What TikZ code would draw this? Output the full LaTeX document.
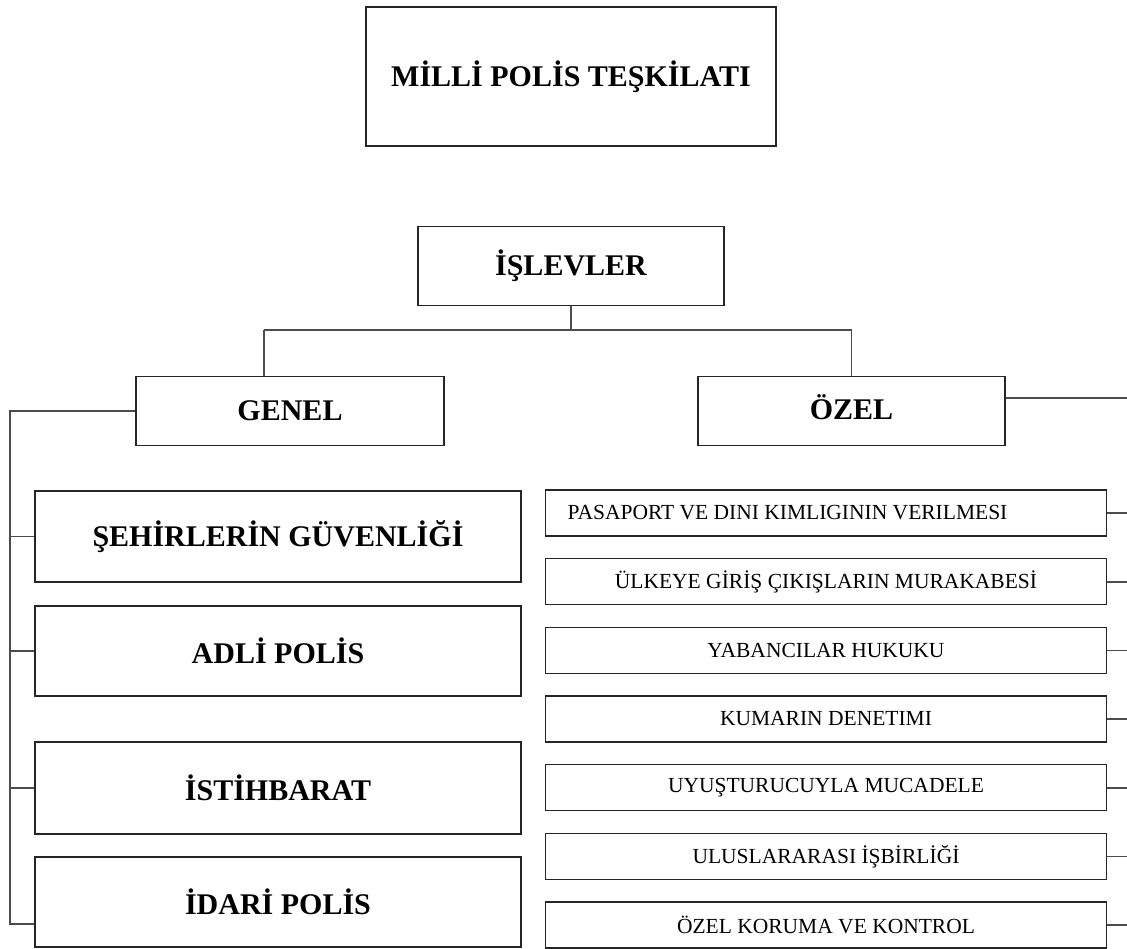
\documentclass[tikz,border=0pt]{standalone}
\usepackage{fontspec}
\setmainfont{Liberation Serif}
\usetikzlibrary{calc}
\tikzset{
  box/.style={draw=black!85, line width=1.5pt, fill=white, inner sep=0pt, align=center},
  bigtext/.style={font=\fontsize{30}{36}\selectfont\bfseries},
  smalltext/.style={font=\fontsize{21.5}{26}\selectfont},
  conn/.style={draw=black!70, line width=1.6pt},
}
\begin{document}
\begin{tikzpicture}[x=1pt,y=-1pt]
\useasboundingbox (0,0) rectangle (1127,949);
% top level
\node[box,bigtext,minimum width=410pt,minimum height=139pt] (top) at (571,76.5) {M\.{I}LL\.{I} POL\.{I}S TE\c{S}K\.{I}LATI};
\node[box,bigtext,minimum width=306pt,minimum height=79pt] (isl) at (571,266) {\.{I}\c{S}LEVLER};
\node[box,bigtext,minimum width=308pt,minimum height=69pt] (genel) at (290,411) {GENEL};
\node[box,bigtext,minimum width=307pt,minimum height=69pt] (ozel) at (851.5,411) {\raisebox{7pt}{ÖZEL}};
% left boxes
\node[box,bigtext,minimum width=486pt,minimum height=91pt] (l1) at (278,536.5) {\c{S}EH\.{I}RLER\.{I}N GÜVENL\.{I}\u{G}\.{I}};
\node[box,bigtext,minimum width=486pt,minimum height=90pt] (l2) at (278,651) {ADL\.{I} POL\.{I}S};
\node[box,bigtext,minimum width=486pt,minimum height=92pt] (l3) at (278,788) {\.{I}ST\.{I}HBARAT};
\node[box,bigtext,minimum width=486pt,minimum height=90pt] (l4) at (278,902) {\.{I}DAR\.{I} POL\.{I}S};
% right boxes
\node[box,smalltext,minimum width=561pt,minimum height=46pt] (r1) at (826,513) {\hspace*{-77pt}PASAPORT VE DINI KIMLIGININ VERILMESI};
\node[box,smalltext,minimum width=561pt,minimum height=46pt] (r2) at (826,581.7) {ÜLKEYE G\.{I}R\.{I}\c{S} ÇIKI\c{S}LARIN MURAKABES\.{I}};
\node[box,smalltext,minimum width=561pt,minimum height=46pt] (r3) at (826,650.3) {YABANCILAR HUKUKU};
\node[box,smalltext,minimum width=561pt,minimum height=46pt] (r4) at (826,719) {KUMARIN DENETIMI};
\node[box,smalltext,minimum width=561pt,minimum height=46pt] (r5) at (826,787.7) {UYU\c{S}TURUCUYLA MUCADELE};
\node[box,smalltext,minimum width=561pt,minimum height=46pt] (r6) at (826,856.3) {ULUSLARARASI \.{I}\c{S}B\.{I}RL\.{I}\u{G}\.{I}};
\node[box,smalltext,minimum width=561pt,minimum height=46pt] (r7) at (826,925) {ÖZEL KORUMA VE KONTROL};
% connectors
\coordinate (mid) at (571,330);
\coordinate (gx) at (264,330);
\draw[conn] (isl.south) -- (mid);
\draw[conn] (gx) -- (mid -| ozel.north);
\draw[conn] (gx) -- (gx |- genel.north);
\draw[conn] (mid -| ozel.north) -- (ozel.north);
\coordinate (lv) at (10,924);
\coordinate (lv3) at (10,788);
\coordinate (lv2) at (10,651);
\coordinate (lv1) at (10,536.5);
\draw[conn] (genel.west) -| (lv) -- (lv -| l4.west);
\draw[conn] (lv1) -- (l1.west);
\draw[conn] (lv2) -- (l2.west);
\draw[conn] (lv3) -- (l3.west);
\coordinate (oz) at (1127,398);
\draw[conn] (oz -| ozel.east) -- (oz);
\coordinate (rE) at (1127,0);
\foreach \n in {r1,r2,r3,r4,r5,r6,r7}{
  \draw[conn] (\n.east) -- (\n.east -| rE);
}
\end{tikzpicture}
\end{document}
